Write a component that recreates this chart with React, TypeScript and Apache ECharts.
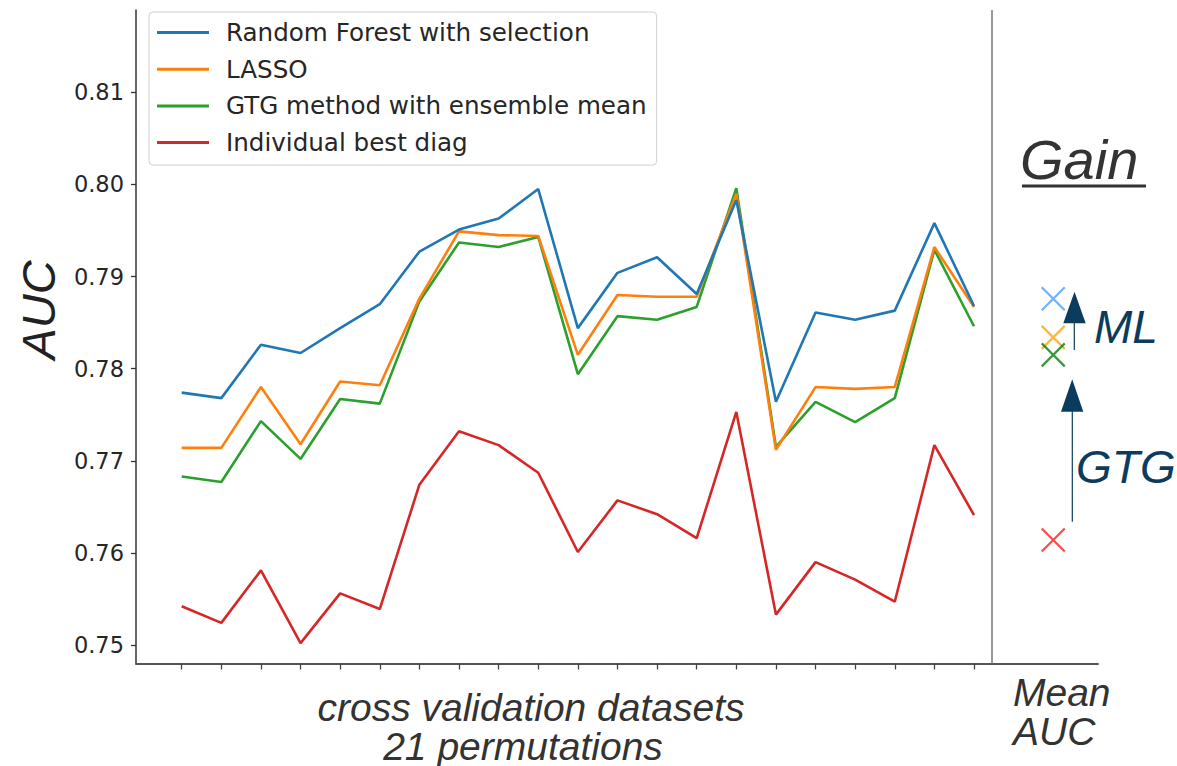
import React, { useEffect, useRef } from "react";
import * as echarts from "echarts";

// 21 cross-validation permutations
const permutations = [
  "P1", "P2", "P3", "P4", "P5", "P6", "P7", "P8", "P9", "P10", "P11",
  "P12", "P13", "P14", "P15", "P16", "P17", "P18", "P19", "P20", "P21",
];

const seriesNames = [
  "Random Forest with selection",
  "LASSO",
  "GTG method with ensemble mean",
  "Individual best diag",
];

const seriesColors = ["#1f77b4", "#ff7f0e", "#2ca02c", "#d62728"];

const rfValues = [
  0.7774, 0.7768, 0.7826, 0.7817, 0.7844, 0.787, 0.7927, 0.7951, 0.7963, 0.7995, 0.7844,
  0.7904, 0.7921, 0.7881, 0.7983, 0.7764, 0.7861, 0.7853, 0.7863, 0.7958, 0.7868,
];
const lassoValues = [
  0.7714, 0.7714, 0.778, 0.7718, 0.7786, 0.7782, 0.7876, 0.7949, 0.7945, 0.7944, 0.7815,
  0.788, 0.7878, 0.7878, 0.799, 0.7712, 0.778, 0.7778, 0.778, 0.7932, 0.7867,
];
const gtgValues = [
  0.7683, 0.7677, 0.7743, 0.7702, 0.7767, 0.7762, 0.7873, 0.7937, 0.7932, 0.7943, 0.7794,
  0.7857, 0.7853, 0.7867, 0.7996, 0.7715, 0.7764, 0.7742, 0.7768, 0.7929, 0.7846,
];
const bestDiagValues = [
  0.7542, 0.7524, 0.7581, 0.7502, 0.7556, 0.7539, 0.7674, 0.7732, 0.7717, 0.7687, 0.7601,
  0.7657, 0.7642, 0.7616, 0.7753, 0.7533, 0.759, 0.7571, 0.7547, 0.7717, 0.7641,
];

// mean AUC of each method, drawn as crosses in the "Mean AUC" column
const meanAuc = [0.7876, 0.7834, 0.7815, 0.7614];
const meanColors = ["#4a9ff5", "#ffa500", "#0a7d0a", "#ff1a1a"];

const yTicks = { min: 0.75, max: 0.81, step: 0.01 };

const NAVY = "#0b3c5d";
const ITALIC = '"Liberation Sans", Arial, sans-serif';

function label(text: string, x: number, y: number, size: number, fill: string, align = "center") {
  return {
    type: "text",
    x,
    y,
    style: {
      text,
      fill,
      font: `italic ${size}px ${ITALIC}`,
      align,
      verticalAlign: "middle",
    },
  };
}

export default function App() {
  const ref = useRef<HTMLDivElement>(null);

  useEffect(() => {
    document.body.style.margin = "0";
    if (!ref.current) return;
    const chart = echarts.init(ref.current, null, { renderer: "svg" });

    const lineData = [rfValues, lassoValues, gtgValues, bestDiagValues];

    const option: any = {
      animation: false,
      backgroundColor: "#ffffff",
      grid: [
        { left: 136, top: 10, width: 962, height: 653.5 },
        { left: 181.7, top: 92.3, width: 792.3, height: 552.7 },
      ],
      legend: {
        data: seriesNames,
        orient: "vertical",
        left: 149,
        top: 12,
        icon: "rect",
        itemWidth: 52,
        itemHeight: 3,
        itemGap: 11.7,
        padding: [8, 10, 10, 8],
        backgroundColor: "#ffffff",
        borderColor: "#d0d0d0",
        borderWidth: 1,
        borderRadius: 4,
        textStyle: {
          fontFamily: '"DejaVu Sans"',
          fontSize: 24.6,
          lineHeight: 23,
          color: "#262626",
          padding: [0, 0, 0, 12],
        },
      },
      xAxis: [
        {
          gridIndex: 0,
          type: "value",
          min: -1.1536,
          max: 23.13,
          axisLine: { show: true, onZero: false, lineStyle: { color: "#555", width: 2 } },
          axisTick: { show: false },
          axisLabel: { show: false },
          splitLine: { show: false },
        },
        {
          gridIndex: 1,
          type: "category",
          data: permutations,
          boundaryGap: false,
          offset: 18.5,
          axisLine: { show: false },
          axisTick: { show: true, interval: 0, length: 6, lineStyle: { color: "#444", width: 1.3 } },
          axisLabel: { show: false, interval: 0 },
          splitLine: { show: false },
        },
      ],
      yAxis: [
        {
          gridIndex: 0,
          type: "value",
          min: 0.748,
          max: 0.81893,
          axisLine: { show: true, onZero: false, lineStyle: { color: "#333", width: 1.5 } },
          axisTick: { show: false },
          axisLabel: { show: false },
          splitLine: { show: false },
        },
        {
          gridIndex: 1,
          type: "value",
          min: yTicks.min,
          max: yTicks.max,
          interval: yTicks.step,
          offset: 45.7,
          axisLine: { show: false },
          axisTick: { show: true, length: 5, lineStyle: { color: "#333", width: 1.3 } },
          axisLabel: {
            margin: 12,
            fontFamily: '"DejaVu Sans"',
            fontSize: 22.5,
            color: "#262626",
            formatter: (v: number) => v.toFixed(2),
          },
          splitLine: { show: false },
        },
      ],
      series: [
        ...lineData.map((values, i) => ({
          name: seriesNames[i],
          type: "line",
          xAxisIndex: 1,
          yAxisIndex: 1,
          data: values,
          symbol: "none",
          color: seriesColors[i],
          lineStyle: { width: 2.6, color: seriesColors[i] },
          z: 10 - i,
        })),
        {
          name: "Mean AUC",
          type: "scatter",
          xAxisIndex: 0,
          yAxisIndex: 0,
          symbol: "path://M0 0L24 24M24 0L0 24",
          symbolSize: 23,
          data: meanAuc.map((v, i) => ({
            value: [22, v],
            itemStyle: { color: "transparent", borderColor: meanColors[i], borderWidth: 2.2 },
          })),
          markLine: {
            silent: true,
            symbol: "none",
            label: { show: false },
            lineStyle: { color: "#777", width: 1.5, type: "solid" },
            data: [{ xAxis: 20.45 }],
          },
          z: 12,
        },
      ],
      graphic: [
        // y-axis title
        {
          type: "text",
          x: 38,
          y: 310,
          rotation: Math.PI / 2,
          style: {
            text: "AUC",
            fill: "#222",
            font: `italic 47px ${ITALIC}`,
            align: "center",
            verticalAlign: "middle",
          },
        },
        // x-axis titles
        label("cross validation datasets", 531, 707, 39, "#333"),
        label("21 permutations", 523, 746, 39, "#333"),
        label("Mean", 1013, 692, 39, "#333", "left"),
        label("AUC", 1013, 731, 39, "#333", "left"),
        // "Gain" heading with underline
        label("Gain", 1020, 159, 56, "#333", "left"),
        {
          type: "rect",
          shape: { x: 1022, y: 184.5, width: 124, height: 3 },
          style: { fill: "#333" },
        },
        // ML gain arrow
        {
          type: "line",
          shape: { x1: 1074.3, y1: 350, x2: 1074.3, y2: 322 },
          style: { stroke: NAVY, lineWidth: 1.2 },
        },
        {
          type: "polygon",
          shape: { points: [[1063.3, 323.3], [1085.7, 323.3], [1074.5, 291.7]] },
          style: { fill: NAVY },
        },
        label("ML", 1094, 327, 46, NAVY, "left"),
        // GTG gain arrow
        {
          type: "line",
          shape: { x1: 1072.3, y1: 521.7, x2: 1072.3, y2: 410 },
          style: { stroke: NAVY, lineWidth: 1.2 },
        },
        {
          type: "polygon",
          shape: { points: [[1061, 411.7], [1083.3, 411.7], [1072.2, 379.3]] },
          style: { fill: NAVY },
        },
        label("GTG", 1076, 467, 46, NAVY, "left"),
      ],
    };

    chart.setOption(option);
    return () => chart.dispose();
  }, []);

  return <div ref={ref} style={{ width: 1177, height: 766 }} />;
}
